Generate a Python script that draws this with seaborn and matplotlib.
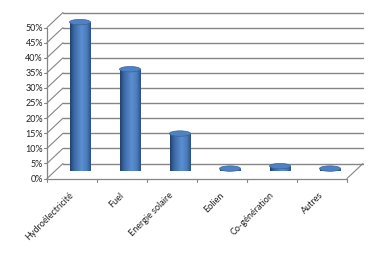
import numpy as np
import pandas as pd
import matplotlib
matplotlib.use("Agg")
import matplotlib.pyplot as plt
import matplotlib.transforms as mtrans
from matplotlib.patches import Ellipse
from matplotlib.colors import LinearSegmentedColormap
import seaborn as sns

categories = ["Hydroélectricité", "Fuel", "Energie solaire", "Eolien", "Co-génération", "Autres"]
values = [49.3, 33.7, 12.4, 0.8, 1.6, 0.8]
yticks = [0, 5, 10, 15, 20, 25, 30, 35, 40, 45, 50]
ytick_labels = [f"{t}%" for t in yticks]

sns.set_theme(style="white")
plt.rcParams["font.family"] = ["Lato", "DejaVu Sans"]

DPI = 100
fig = plt.figure(figsize=(3.85, 2.55), dpi=DPI)
fig.patch.set_facecolor("white")
ax = fig.add_axes([55 / 385, 83 / 255, 300 / 385, 151 / 255])

df = pd.DataFrame({"cat": categories, "val": values})
sns.barplot(data=df, x="cat", y="val", color="#4F81BD", width=0.42,
            saturation=1, ax=ax, zorder=2)
ax.set_xlim(-0.5, len(categories) - 0.5)
ax.set_ylim(0, 50)
ax.axis("off")

DX, DY = 8, 7.5
back = mtrans.offset_copy(ax.transData, fig=fig, x=DX, y=DY, units="dots")
front = mtrans.offset_copy(ax.transData, fig=fig, x=-DX, y=-DY, units="dots")
grid_c = "#858585"
x0, x1 = -0.5, len(categories) - 0.5

# back wall gridlines
for t in yticks:
    ax.plot([x0, x1], [t, t], transform=back, color=grid_c, lw=1.0,
            clip_on=False, zorder=0)

ident = mtrans.IdentityTransform()
def disp(x, y, dx=0.0, dy=0.0):
    px, py = ax.transData.transform((x, y))
    return px + dx, py + dy

# side wall diagonals
for t in yticks:
    a = disp(x0, t, -DX, -DY)
    b = disp(x0, t, DX, DY)
    fig.add_artist(plt.Line2D([a[0], b[0]], [a[1], b[1]], transform=ident,
                              color=grid_c, lw=0.8, zorder=0))
# floor right edge
a = disp(x1, 0, -DX, -DY)
b = disp(x1, 0, DX, DY)
fig.add_artist(plt.Line2D([a[0], b[0]], [a[1], b[1]], transform=ident,
                          color=grid_c, lw=0.8, zorder=0))

# front axes lines
ax.plot([x0, x1], [0, 0], transform=front, color=grid_c, lw=0.9, clip_on=False, zorder=1)
ax.plot([x0, x0], [0, 50], transform=front, color=grid_c, lw=0.9, clip_on=False, zorder=1)

# y ticks and labels
for t, lab in zip(yticks, ytick_labels):
    a = disp(x0, t, -DX, -DY)
    fig.add_artist(plt.Line2D([a[0] - 3, a[0]], [a[1], a[1]], transform=ident,
                              color=grid_c, lw=0.8))
    fig.text(a[0] - 4, a[1], lab, transform=ident, ha="right", va="center",
             fontsize=6.5, color="#222222")

# x ticks and labels
for i in range(len(categories) + 1):
    a = disp(x0 + i, 0, -DX, -DY)
    fig.add_artist(plt.Line2D([a[0], a[0]], [a[1], a[1] - 3.5], transform=ident,
                              color=grid_c, lw=0.8))
for i, lab in enumerate(categories):
    a = disp(i, 0, -DX, -DY)
    fig.text(a[0] - 3, a[1] - 11, lab, transform=ident, ha="right", va="top",
             rotation=45, rotation_mode="anchor", fontsize=6.5, color="#222222")

# cylinders
cmap = LinearSegmentedColormap.from_list(
    "cyl", [(0.0, "#223f66"), (0.18, "#3a66a3"), (0.55, "#5b8fd1"),
            (0.8, "#4b7dbd"), (1.0, "#2c5083")])
grad = np.linspace(0, 1, 256).reshape(1, -1)
EH = 1.8
for p in list(ax.patches):
    bx, bw, bh = p.get_x(), p.get_width(), p.get_height()
    p.set_facecolor("none")
    p.set_edgecolor("none")
    p.set_clip_on(False)
    im = ax.imshow(grad, cmap=cmap, extent=[bx, bx + bw, 0, bh],
                   aspect="auto", zorder=2, interpolation="bilinear")
    im.set_clip_path(p)
    eb = Ellipse((bx + bw / 2, 0), bw, EH, facecolor="none", edgecolor="none",
                 clip_on=False)
    ax.add_patch(eb)
    im2 = ax.imshow(grad, cmap=cmap, extent=[bx, bx + bw, -EH / 2, 0],
                    aspect="auto", zorder=2, interpolation="bilinear")
    im2.set_clip_path(eb)
    et = Ellipse((bx + bw / 2, bh), bw, EH, facecolor="#4f82c3",
                 edgecolor="#36639e", lw=0.5, zorder=3, clip_on=False)
    ax.add_patch(et)

ax.set_xlim(-0.5, len(categories) - 0.5)
ax.set_ylim(0, 50)

fig.savefig("out.png", dpi=DPI, facecolor="white")
